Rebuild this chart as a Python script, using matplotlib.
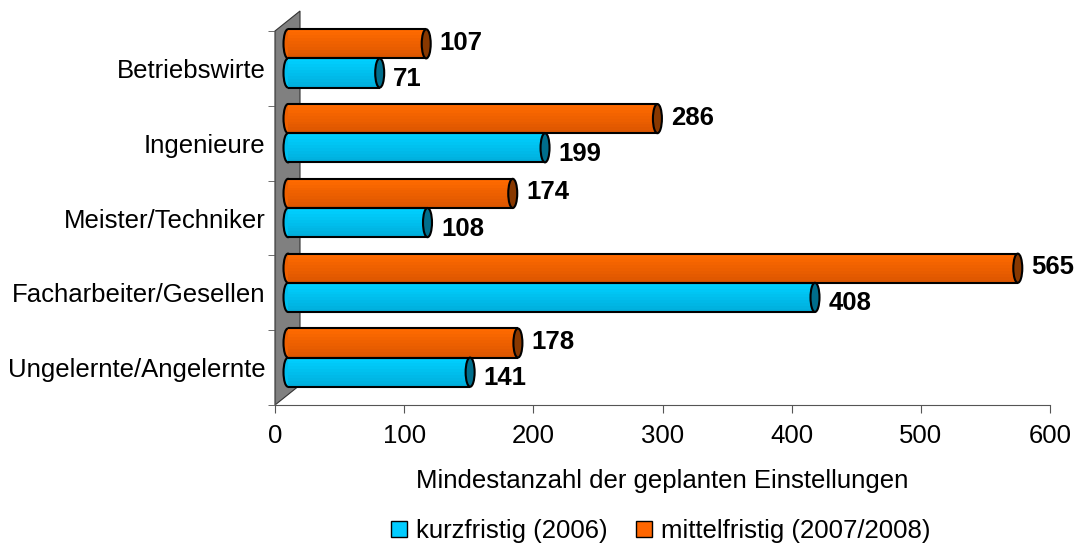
import numpy as np
import matplotlib
matplotlib.use("Agg")
import matplotlib.pyplot as plt
from matplotlib.patches import Ellipse, Rectangle, Polygon
from matplotlib.transforms import offset_copy
from matplotlib.lines import Line2D
from matplotlib.colors import to_rgb

plt.rcParams['font.family'] = ['Liberation Sans', 'DejaVu Sans']

# data (bottom to top)
categories = ["Ungelernte/Angelernte", "Facharbeiter/Gesellen", "Meister/Techniker",
              "Ingenieure", "Betriebswirte"]
kurzfristig = [141, 408, 108, 199, 71]
mittelfristig = [178, 565, 174, 286, 107]
series_names = ["kurzfristig (2006)", "mittelfristig (2007/2008)"]
xticks = [0, 100, 200, 300, 400, 500, 600]

blue_top, blue_bot, blue_cap = "#00D0FF", "#00AEDC", "#006E8C"
orange_top, orange_bot, orange_cap = "#FF6A00", "#DC5600", "#883800"

fig = plt.figure(figsize=(10.77, 5.46), dpi=100)
ax = fig.add_axes([275 / 1077, 141 / 546, 775 / 1077, 374 / 546])
ax.set_xlim(0, 600)
ax.set_ylim(-0.5, 4.5)

px_per_unit = 775 / 600
cap_w = 9 / px_per_unit
bar_h = 0.39
fs = 18.5

# gray side wall (3d depth)
depth_x, depth_y = 25 / px_per_unit, 20 / 74.8
wall = Polygon([(0, -0.5), (0, 4.5), (depth_x, 4.5 + depth_y), (depth_x, -0.5 + depth_y)],
               closed=True, facecolor="#808080", edgecolor="#333333", lw=0.8,
               clip_on=False, zorder=1)
ax.add_patch(wall)

bar_tr = offset_copy(ax.transData, fig=fig, x=13, y=10, units='dots')


def draw_bar(yc, v, top, bot, cap, lab_dy):
    c1, c2 = np.array(to_rgb(top)), np.array(to_rgb(bot))
    n = 10
    y0 = yc - bar_h / 2
    ax.add_patch(Ellipse((0, yc), cap_w, bar_h, facecolor=(c1 + c2) / 2, edgecolor="black",
                         lw=1.5, transform=bar_tr, zorder=2, clip_on=False))
    for i in range(n):
        col = c1 + (c2 - c1) * (1 - i / (n - 1))
        ax.add_patch(Rectangle((0, y0 + i * bar_h / n), v, bar_h / n * 1.02, facecolor=col,
                               lw=0, transform=bar_tr, zorder=3, clip_on=False))
    for yy in (y0, y0 + bar_h):
        ax.plot([0, v], [yy, yy], color="black", lw=1.5, transform=bar_tr, zorder=4,
                clip_on=False, solid_capstyle="butt")
    ax.add_patch(Ellipse((v, yc), cap_w, bar_h, facecolor=cap, edgecolor="black",
                         lw=1.5, transform=bar_tr, zorder=5, clip_on=False))
    lab_tr = offset_copy(ax.transData, fig=fig, x=13 + 4.5 + 9, y=lab_dy, units='dots')
    ax.text(v, yc, str(v), transform=lab_tr, ha="left", va="center",
            fontsize=fs, fontweight="bold", zorder=6)


ypos = np.arange(len(categories))
for y, k, m in zip(ypos, kurzfristig, mittelfristig):
    draw_bar(y - bar_h / 2, k, blue_top, blue_bot, blue_cap, 4)
    draw_bar(y + bar_h / 2, m, orange_top, orange_bot, orange_cap, 11)

ax.set_yticks(ypos)
ax.set_yticklabels(categories, fontsize=fs)
ax.set_yticks(np.arange(-0.5, 5, 1), minor=True)
ax.tick_params(axis="y", which="major", length=0, pad=7)
ax.tick_params(axis="y", which="minor", length=5, color="#555555", direction="out")
ax.set_xticks(xticks)
ax.set_xticklabels([str(t) for t in xticks], fontsize=fs)
ax.tick_params(axis="x", length=6, color="#555555", pad=8)
ax.set_xlabel("Mindestanzahl der geplanten Einstellungen", fontsize=fs, labelpad=15)

for s in ("top", "right"):
    ax.spines[s].set_visible(False)
ax.spines["left"].set_color("#555555")
ax.spines["bottom"].set_color("#555555")
ax.set_facecolor("none")

handles = [Line2D([], [], marker="s", ls="none", markersize=12, markerfacecolor=c,
                  markeredgecolor="black", markeredgewidth=1)
           for c in ("#00CCFF", "#FF6600")]
fig.legend(handles, series_names, loc="lower center", bbox_to_anchor=(0.613, -0.036),
           ncol=2, frameon=False, fontsize=fs, handlelength=0.7, handletextpad=0.3,
           columnspacing=1.1)

fig.savefig("out.png", dpi=100)
